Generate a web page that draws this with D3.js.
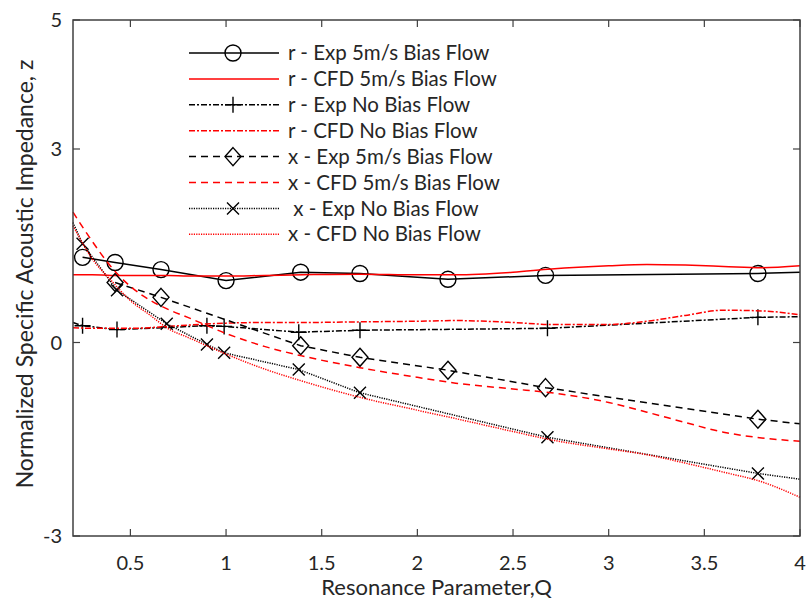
<!DOCTYPE html>
<html lang="en">
<head>
<meta charset="UTF-8">
<title>Specific Acoustic Impedance</title>
<script src="https://d3js.org/d3.v7.min.js"></script>
<style>
  body { margin: 0; background: #fff; }
  text { font-family: Lato, "Open Sans", sans-serif; fill: #262626; }
  .frame { fill: none; stroke: #404040; stroke-width: 1.5px; }
  .tick-in { stroke: #404040; stroke-width: 1.2px; }
  .series { fill: none; stroke-width: 1.5px; }
  .mark { fill: none; stroke-width: 1.4px; }
</style>
</head>
<body>
<svg id="chart"></svg>
<script>
// experimental points (markers)
var qExp5 = [0.25, 0.42, 0.66, 1.0, 1.39, 1.70, 2.16, 2.67, 3.78];
var rExp5 = [1.32, 1.24, 1.13, 0.96, 1.09, 1.07, 0.98, 1.04, 1.07];
var qExp5x = [0.42, 0.66, 1.39, 1.70, 2.16, 2.67, 3.78];
var xExp5 = [0.93, 0.70, -0.05, -0.23, -0.43, -0.70, -1.19];
var qExpNoR = [0.25, 0.43, 0.90, 0.99, 1.38, 1.70, 2.68, 3.78];
var rExpNo = [0.26, 0.20, 0.26, 0.25, 0.16, 0.19, 0.22, 0.39];
var qExpNoX = [0.25, 0.43, 0.69, 0.90, 0.99, 1.38, 1.70, 2.68, 3.78];
var xExpNo = [1.53, 0.81, 0.29, -0.03, -0.16, -0.42, -0.78, -1.47, -2.03];

// where the experimental lines start / end beyond the markers
var rExp5End = 1.09;
var xExp5End = -1.26;
var rExpNoStart = 0.31, rExpNoEnd = 0.40;
var xExpNoStart = 1.86, xExpNoEnd = -2.12;

// CFD curves
var qCfd = [0.2, 0.3, 0.4, 0.5, 0.6, 0.7, 0.8, 1.0, 1.2, 1.4, 1.7, 2.0, 2.2, 2.5, 2.7, 3.0, 3.2, 3.4, 3.6, 3.8, 4.0];
var rCfd5 = [1.05, 1.05, 1.04, 1.04, 1.04, 1.04, 1.03, 1.03, 1.04, 1.05, 1.06, 1.05, 1.05, 1.09, 1.14, 1.19, 1.21, 1.20, 1.18, 1.16, 1.19];
var rCfdNo = [0.23, 0.22, 0.22, 0.22, 0.23, 0.25, 0.27, 0.30, 0.31, 0.31, 0.32, 0.33, 0.34, 0.31, 0.28, 0.28, 0.33, 0.42, 0.50, 0.49, 0.43];
var xCfd5 = [2.02, 1.57, 1.17, 0.87, 0.66, 0.51, 0.39, 0.14, -0.06, -0.21, -0.39, -0.54, -0.63, -0.72, -0.78, -0.93, -1.08, -1.24, -1.39, -1.48, -1.53];
var xCfdNo = [1.81, 1.30, 0.96, 0.65, 0.43, 0.21, 0.08, -0.18, -0.41, -0.60, -0.85, -1.05, -1.18, -1.38, -1.51, -1.65, -1.74, -1.87, -2.01, -2.16, -2.40];

var xTicks = [0.5, 1, 1.5, 2, 2.5, 3, 3.5, 4];
var yTicks = [-3, 0, 3, 5];

var legendLabels = [
    "r - Exp 5m/s Bias Flow",
    "r - CFD 5m/s Bias Flow",
    "r - Exp No Bias Flow",
    "r - CFD No Bias Flow",
    "x - Exp 5m/s Bias Flow",
    "x - CFD 5m/s Bias Flow",
    " x - Exp No Bias Flow",
    "x - CFD No Bias Flow"
];

var W = 806, H = 603;
var margin = {top: 20, right: 6, bottom: 67, left: 73};
var width = W - margin.left - margin.right,
    height = H - margin.top - margin.bottom;

var svg = d3.select("#chart").attr("width", W).attr("height", H);
var g = svg.append("g").attr("transform", "translate(" + margin.left + "," + margin.top + ")");

var x = d3.scaleLinear().domain([0.2, 4]).range([0, width]);
var y = d3.scaleLinear().domain([-3, 5]).range([height, 0]);

var zip = function(qs, vs) { return qs.map(function(q, i) { return [q, vs[i]]; }); };

var styles = [
    {stroke: "#000", dash: null, marker: "circle", line: [].concat(zip(qExp5, rExp5), [[4, rExp5End]]), pts: zip(qExp5, rExp5), curve: d3.curveLinear},
    {stroke: "#ff0000", dash: null, marker: null, line: zip(qCfd, rCfd5), curve: d3.curveMonotoneX},
    {stroke: "#000", dash: "6,2,2,2", marker: "plus", line: [].concat([[0.2, rExpNoStart]], zip(qExpNoR, rExpNo), [[4, rExpNoEnd]]), pts: zip(qExpNoR, rExpNo), curve: d3.curveLinear},
    {stroke: "#ff0000", dash: "6,2,2,2", marker: null, line: zip(qCfd, rCfdNo), curve: d3.curveMonotoneX},
    {stroke: "#000", dash: "7,5", marker: "diamond", line: [].concat(zip(qExp5x, xExp5), [[4, xExp5End]]), pts: zip(qExp5x, xExp5), curve: d3.curveLinear},
    {stroke: "#ff0000", dash: "7,5", marker: null, line: zip(qCfd, xCfd5), curve: d3.curveMonotoneX},
    {stroke: "#000", dash: "1.2,1.2", marker: "cross", line: [].concat([[0.2, xExpNoStart]], zip(qExpNoX, xExpNo), [[4, xExpNoEnd]]), pts: zip(qExpNoX, xExpNo), curve: d3.curveLinear},
    {stroke: "#ff0000", dash: "1.2,1.2", marker: null, line: zip(qCfd, xCfdNo), curve: d3.curveMonotoneX}
];

// marker shapes as path strings around (0,0)
function markerPath(type) {
    var p = d3.path();
    if (type === "circle") {
        p.moveTo(8, 0); p.arc(0, 0, 8, 0, 2 * Math.PI);
    } else if (type === "plus") {
        p.moveTo(-8, 0); p.lineTo(8, 0); p.moveTo(0, -8); p.lineTo(0, 8);
    } else if (type === "diamond") {
        p.moveTo(0, -9); p.lineTo(8, 0); p.lineTo(0, 9); p.lineTo(-8, 0); p.closePath();
    } else if (type === "cross") {
        p.moveTo(-6, -6); p.lineTo(6, 6); p.moveTo(6, -6); p.lineTo(-6, 6);
    }
    return p.toString();
}

var plot = g.append("g");

styles.forEach(function(s) {
    var line = d3.line().curve(s.curve)
        .x(function(d) { return x(d[0]); })
        .y(function(d) { return y(d[1]); });
    plot.append("path")
        .attr("class", "series")
        .attr("d", line(s.line))
        .attr("stroke", s.stroke)
        .attr("stroke-dasharray", s.dash);
    if (s.marker) {
        plot.selectAll(null)
            .data(s.pts)
            .enter().append("path")
            .attr("class", "mark")
            .attr("stroke", s.stroke)
            .attr("transform", function(d) { return "translate(" + x(d[0]) + "," + y(d[1]) + ")"; })
            .attr("d", markerPath(s.marker));
    }
});

// frame and inward ticks (MATLAB box style)
g.append("rect").attr("class", "frame").attr("width", width).attr("height", height);

var tl = 7;
xTicks.forEach(function(t) {
    g.append("line").attr("class", "tick-in").attr("x1", x(t)).attr("x2", x(t)).attr("y1", height).attr("y2", height - tl);
    g.append("line").attr("class", "tick-in").attr("x1", x(t)).attr("x2", x(t)).attr("y1", 0).attr("y2", tl);
    g.append("text").attr("x", x(t)).attr("y", height + 34)
        .attr("text-anchor", "middle").style("font-size", "20px").text(t);
});
yTicks.forEach(function(t) {
    g.append("line").attr("class", "tick-in").attr("x1", 0).attr("x2", tl).attr("y1", y(t)).attr("y2", y(t));
    g.append("line").attr("class", "tick-in").attr("x1", width).attr("x2", width - tl).attr("y1", y(t)).attr("y2", y(t));
    g.append("text").attr("x", -11).attr("y", y(t)).attr("dy", "0.35em")
        .attr("text-anchor", "end").style("font-size", "20px").text(t);
});

// axis titles
g.append("text").attr("x", width / 2).attr("y", height + 59)
    .attr("text-anchor", "middle").style("font-size", "22px")
    .text("Resonance Parameter,Q");
g.append("text")
    .attr("transform", "translate(" + (33 - margin.left) + "," + (height / 2 - 4) + ") rotate(-90)")
    .attr("text-anchor", "middle").style("font-size", "23px")
    .text("Normalized Specific Acoustic Impedance, z");

// legend
var lg = svg.append("g").attr("transform", "translate(189,53)");
legendLabels.forEach(function(label, i) {
    var s = styles[i];
    var row = lg.append("g").attr("transform", "translate(0," + (i * 25.9) + ")");
    row.append("line").attr("class", "series")
        .attr("x1", 0).attr("x2", 90).attr("y1", 0).attr("y2", 0)
        .attr("stroke", s.stroke).attr("stroke-dasharray", s.dash);
    if (s.marker) {
        row.append("path").attr("class", "mark").attr("stroke", s.stroke)
            .attr("transform", "translate(44,0)").attr("d", markerPath(s.marker));
    }
    row.append("text").attr("x", 99).attr("dy", "0.35em")
        .style("font-size", "20.5px")
        .attr("xml:space", "preserve")
        .text(label);
});
</script>
</body>
</html>
